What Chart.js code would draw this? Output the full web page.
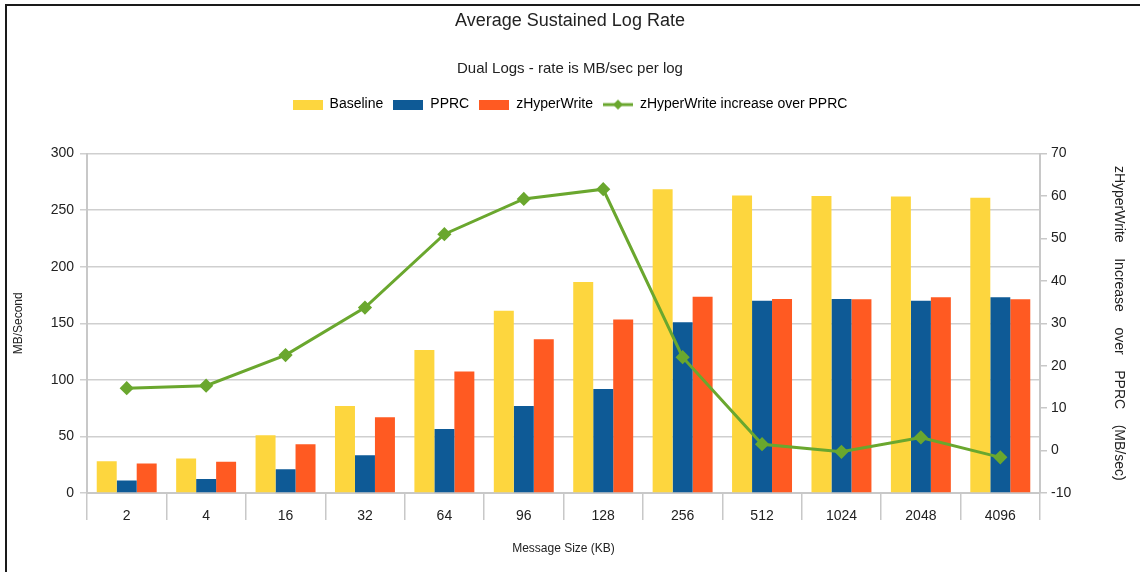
<!DOCTYPE html>
<html>
<head>
<meta charset="utf-8">
<script src="https://cdn.jsdelivr.net/npm/chart.js@4/dist/chart.umd.min.js"></script>
<style>
  html, body { margin: 0; padding: 0; background: #fff; }
  #wrap { width: 1140px; height: 572px; position: relative; }
</style>
</head>
<body>
<div id="wrap"><canvas id="logRateChart" width="1140" height="572"></canvas></div>
<script>
// message sizes (KB)
const categories = ['2', '4', '16', '32', '64', '96', '128', '256', '512', '1024', '2048', '4096'];

// MB/sec per log
const baseline    = [28, 30.5, 51, 77, 126.5, 161, 186.5, 268.5, 263, 262.5, 262, 261];
const pprc        = [11, 12.3, 21, 33.4, 56.6, 76.8, 92, 151, 170, 171.5, 170, 173];
const zHyperWrite = [26, 27.6, 43, 67, 107.5, 136, 153.3, 173.5, 171.5, 171.2, 173, 171.2];

// zHyperWrite increase over PPRC (MB/sec), right axis
const increase = [14.7, 15.3, 22.5, 33.7, 51, 59.3, 61.6, 22, 1.5, -0.3, 3.1, -1.6];

const leftTicks  = { min: 0, max: 300, step: 50 };
const rightTicks = { min: -10, max: 70, step: 10 };

const FONT = "'Liberation Sans', Arial, sans-serif";
const COLORS = {
  baseline: '#FDD63E',
  pprc: '#0E5A96',
  zhw: '#FF5A22',
  line: '#6AA72E'
};

Chart.defaults.font.family = FONT;
Chart.defaults.color = '#222';

// little canvases used as legend symbols
function boxSymbol(color) {
  const c = document.createElement('canvas');
  c.width = 30; c.height = 10;
  const g = c.getContext('2d');
  g.fillStyle = color;
  g.fillRect(0, 0, 30, 10);
  return c;
}
function lineSymbol(color) {
  const c = document.createElement('canvas');
  c.width = 30; c.height = 12;
  const g = c.getContext('2d');
  g.strokeStyle = color;
  g.lineWidth = 3;
  g.beginPath(); g.moveTo(0, 6); g.lineTo(30, 6); g.stroke();
  g.fillStyle = color;
  g.beginPath(); g.moveTo(15, 1); g.lineTo(20, 6); g.lineTo(15, 11); g.lineTo(10, 6); g.closePath(); g.fill();
  return c;
}

// extra room under the legend so the plot starts lower
const legendGap = {
  id: 'legendGap',
  beforeLayout(chart) {
    const lg = chart.legend;
    if (lg && !lg._gapPatched) {
      const origFit = lg.fit;
      lg.fit = function() {
        origFit.call(this);
        this.height += 32;
      };
      lg._gapPatched = true;
    }
  }
};

// outer frame (top and left edges)
const framePlugin = {
  id: 'frame',
  afterDraw(chart) {
    const ctx = chart.ctx;
    ctx.save();
    ctx.strokeStyle = '#1a1a1a';
    ctx.lineWidth = 2;
    ctx.beginPath();
    ctx.moveTo(6, 572); ctx.lineTo(6, 5); ctx.lineTo(1140, 5);
    ctx.stroke();
    ctx.restore();
  }
};

const ctx = document.getElementById('logRateChart');
new Chart(ctx, {
  type: 'bar',
  data: {
    labels: categories,
    datasets: [
      { label: 'Baseline', data: baseline, backgroundColor: COLORS.baseline, yAxisID: 'y', order: 1 },
      { label: 'PPRC', data: pprc, backgroundColor: COLORS.pprc, yAxisID: 'y', order: 1 },
      { label: 'zHyperWrite', data: zHyperWrite, backgroundColor: COLORS.zhw, yAxisID: 'y', order: 1 },
      {
        type: 'line',
        label: 'zHyperWrite increase over PPRC',
        data: increase,
        yAxisID: 'y1',
        order: 0,
        borderColor: COLORS.line,
        backgroundColor: COLORS.line,
        borderWidth: 3,
        tension: 0,
        pointStyle: 'rectRot',
        pointRadius: 5,
        pointBackgroundColor: COLORS.line,
        pointBorderColor: COLORS.line
      }
    ]
  },
  options: {
    responsive: false,
    animation: false,
    layout: { padding: { left: 0, right: 0, top: 0, bottom: 0 } },
    datasets: {
      bar: { barPercentage: 1.0, categoryPercentage: 0.755 }
    },
    plugins: {
      title: {
        display: true,
        text: 'Average Sustained Log Rate',
        font: { size: 18, weight: 'normal' },
        color: '#222',
        padding: { top: 10, bottom: 0 }
      },
      subtitle: {
        display: true,
        text: 'Dual Logs - rate is MB/sec per log',
        font: { size: 15, weight: 'normal' },
        color: '#222',
        padding: { top: 28, bottom: 10 }
      },
      legend: {
        display: true,
        labels: {
          usePointStyle: true,
          pointStyleWidth: 30,
          boxHeight: 10,
          padding: 10,
          font: { size: 14 },
          color: '#222',
          generateLabels(chart) {
            return chart.data.datasets.map((ds, i) => ({
              text: ds.label,
              datasetIndex: i,
              pointStyle: ds.type === 'line' ? lineSymbol(ds.borderColor) : boxSymbol(ds.backgroundColor),
              fillStyle: ds.backgroundColor,
              strokeStyle: ds.backgroundColor,
              lineWidth: 0,
              hidden: !chart.isDatasetVisible(i)
            }));
          }
        }
      },
      tooltip: { enabled: false }
    },
    scales: {
      x: {
        offset: true,
        grid: { offset: true, drawOnChartArea: false, tickLength: 27, color: '#c8c8c8', lineWidth: 1.5 },
        border: { color: '#c8c8c8', width: 2 },
        ticks: { padding: -12, font: { size: 14 }, color: '#222' },
        title: {
          display: true,
          text: 'Message Size (KB)',
          font: { size: 12 },
          color: '#222',
          padding: { top: 0, bottom: 16 }
        },
        afterFit(scale) { scale.height = 79; }
      },
      y: {
        position: 'left',
        min: leftTicks.min,
        max: leftTicks.max,
        ticks: { stepSize: leftTicks.step, font: { size: 14 }, color: '#222', padding: 6 },
        grid: { color: '#cfcfcf', lineWidth: 1.5, tickLength: 7 },
        border: { color: '#c8c8c8', width: 2 },
        title: {
          display: true,
          text: 'MB/Second',
          font: { size: 12 },
          color: '#222',
          padding: { top: 11, bottom: 4 }
        },
        afterFit(scale) { scale.width = 87; }
      },
      y1: {
        position: 'right',
        min: rightTicks.min,
        max: rightTicks.max,
        ticks: { stepSize: rightTicks.step, font: { size: 14 }, color: '#222', padding: 4 },
        grid: { drawOnChartArea: false, color: '#c8c8c8', lineWidth: 1.5, tickLength: 7 },
        border: { color: '#c8c8c8', width: 2 },
        title: {
          display: true,
          text: 'zHyperWrite    Increase    over    PPRC    (MB/sec)',
          font: { size: 14 },
          color: '#222',
          padding: { top: 13, bottom: 0 }
        },
        afterFit(scale) { scale.width = 100; }
      }
    }
  },
  plugins: [legendGap, framePlugin]
});
</script>
</body>
</html>
